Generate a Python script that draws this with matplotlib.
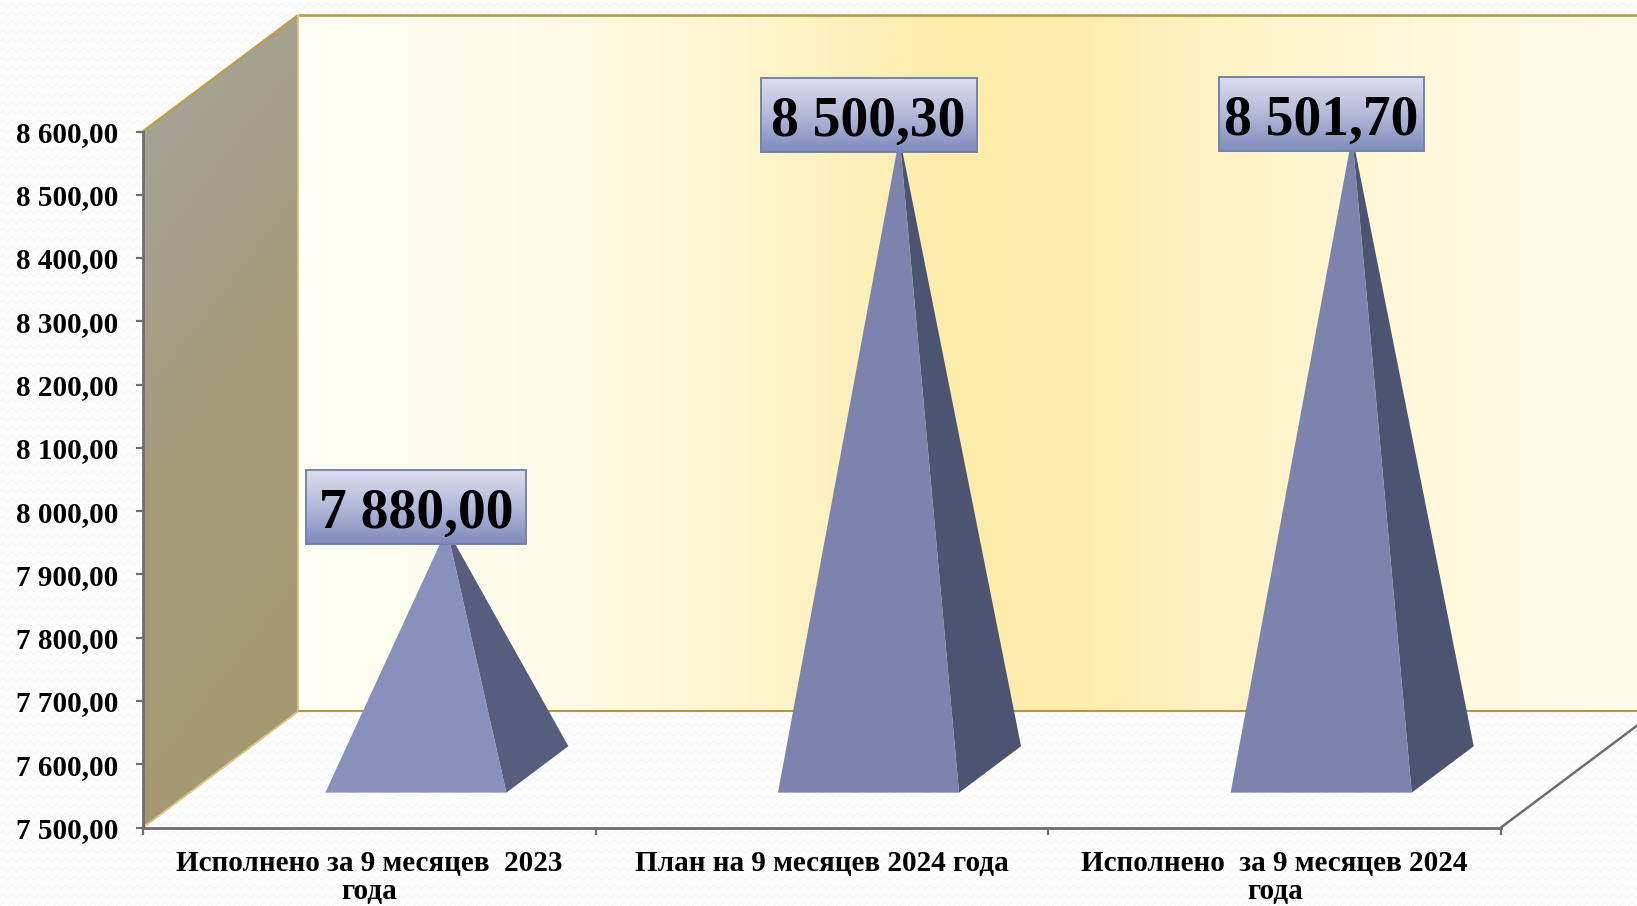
import numpy as np
import matplotlib
matplotlib.use("Agg")
import matplotlib.pyplot as plt
from matplotlib.colors import LinearSegmentedColormap
from matplotlib.patches import Polygon, Rectangle
from matplotlib.transforms import IdentityTransform

# ---- data ----
categories = ["Исполнено за 9 месяцев  2023\nгода",
              "План на 9 месяцев 2024 года",
              "Исполнено  за 9 месяцев 2024\nгода"]
values = [7880.00, 8500.30, 8501.70]
value_labels = ["7 880,00", "8 500,30", "8 501,70"]
y_ticks = [7500, 7600, 7700, 7800, 7900, 8000, 8100, 8200, 8300, 8400, 8500, 8600]
y_labels = ["7 500,00", "7 600,00", "7 700,00", "7 800,00", "7 900,00", "8 000,00",
            "8 100,00", "8 200,00", "8 300,00", "8 400,00", "8 500,00", "8 600,00"]

# ---- style ----
W, H = 1637, 906
FONT = "Liberation Serif"
GOLD = "#B8A052"
AXIS = "#6E6E6E"
FRONT = ["#8791BC", "#7C84AD", "#7C84AD"]
SIDE = ["#575D7E", "#4D5471", "#4D5471"]
DX, DY = 0.3425, 183.5   # oblique depth vector in data units

fig = plt.figure(figsize=(W / 100, H / 100), dpi=100, facecolor="white")

# faint woven page texture
yy, xx = np.mgrid[0:H, 0:W]
wave = ((yy + 1.6 * np.sin(2 * np.pi * xx / 9.0)) % 9.0)
tex = 255 - 8 * np.exp(-((wave - 4.5) / 1.0) ** 2)
fig.figimage(np.dstack([tex, tex, tex]).astype(np.uint8), 0, 0, zorder=-5)

L, R, T, B = 143, 1501, 131.5, 827.5
ax = fig.add_axes([L / W, 1 - B / H, (R - L) / W, (B - T) / H])
ax.patch.set_visible(False)
ax.set_autoscale_on(False)
ax.set_xlim(0, 3)
ax.set_ylim(7500, 8600)


def P(c, v, d):
    return (c + d * DX, v + d * DY)


# back wall gradient
wall = LinearSegmentedColormap.from_list(
    "wall", [(0, "#FFFEF4"), (0.16, "#FFFCEB"), (0.33, "#FFF6CE"), (0.48, "#FFEBAA"),
             (0.56, "#FFECAC"), (0.68, "#FFF3C4"), (0.85, "#FFF9DE"), (1, "#FFFCEC")])
grad = np.linspace(0, 1, 512).reshape(1, -1)
x0, y0 = P(0, 7500, 1)
x1, y1 = P(3, 8600, 1)
ax.imshow(grad, cmap=wall, extent=[x0, x1, y0, y1], aspect="auto", zorder=1,
          clip_on=False, interpolation="bilinear")

# side wall gradient clipped to its parallelogram
side_poly = Polygon([P(0, 7500, 0), P(0, 7500, 1), P(0, 8600, 1), P(0, 8600, 0)],
                    closed=True, transform=ax.transData, facecolor="none", edgecolor="none")
ax.add_patch(side_poly)
side_poly.set_clip_on(False)
side_cm = LinearSegmentedColormap.from_list("side", ["#A6A69F", "#A39A78", "#A4986E"])
gy, gx = np.mgrid[0:1:256j, 0:1:256j]
side_im = ax.imshow(0.8 * gy + 0.2 * gx, cmap=side_cm, extent=[0, DX, 7500, 8600 + DY],
                    aspect="auto", origin="upper", zorder=1.1)
side_im.set_clip_box(fig.bbox)
side_im.set_clip_path(side_poly)

# frame lines
for a, b, col, lw in [
    (P(0, 8600, 0), P(0, 8600, 1), GOLD, 2.0),
    (P(0, 8600, 1), P(3, 8600, 1), GOLD, 2.0),
    (P(0, 7500, 1), P(3, 7500, 1), "#AE9850", 1.5),
    (P(0, 7500, 1), P(0, 8600, 1), "#D9C67E", 1.3),
    (P(0, 7500, 0), P(0, 7500, 1), "#D9C67E", 1.4),
    (P(3, 7500, 0), P(3, 7500, 1), AXIS, 1.8),
]:
    ax.plot([a[0], b[0]], [a[1], b[1]], color=col, lw=lw, zorder=1.5, clip_on=False,
            solid_capstyle="butt")

# pyramids
for i, v in enumerate(values):
    c0, c1, cm = i + 0.30, i + 0.70, i + 0.5
    fl = P(c0, 7500, 0.30)
    fr = P(c1, 7500, 0.30)
    br = P(c1, 7500, 0.70)
    apex = P(cm, v, 0.50)
    ax.add_patch(Polygon([fr, br, apex], closed=True, facecolor=SIDE[i], edgecolor="none",
                         zorder=3, clip_on=False))
    ax.add_patch(Polygon([fl, fr, apex], closed=True, facecolor=FRONT[i], edgecolor="none",
                         zorder=3.1, clip_on=False))

# value label boxes with a vertical gradient
box_cm = LinearSegmentedColormap.from_list("box", ["#DCDDEE", "#B3B9D8", "#7F8BBD"])
box_w = [220, 216, 205]
box_h = 74
for i, (v, txt) in enumerate(zip(values, value_labels)):
    px, py = ax.transData.transform(P(i + 0.5, v, 0.50))
    cx, cy = px - 31, py + 22
    bw = box_w[i]
    ext = [cx - bw / 2, cx + bw / 2, cy - box_h / 2, cy + box_h / 2]
    ax.imshow(np.linspace(0, 1, 128).reshape(-1, 1), cmap=box_cm, extent=ext, aspect="auto",
              origin="upper", transform=IdentityTransform(), zorder=5, clip_on=False)
    ax.add_patch(Rectangle((ext[0], ext[2]), bw, box_h, transform=IdentityTransform(),
                           facecolor="none", edgecolor="#7683AC", lw=1.4, zorder=5.1, clip_on=False))
    ax.text(cx, cy - 7, txt, transform=IdentityTransform(), ha="center", va="center",
            fontsize=40, fontweight="bold", family=FONT, color="black", zorder=6)

ax.set_xlim(0, 3)
ax.set_ylim(7500, 8600)

# axes, ticks and labels
for s in ("top", "right"):
    ax.spines[s].set_visible(False)
for s in ("left", "bottom"):
    ax.spines[s].set_color(AXIS)
    ax.spines[s].set_linewidth(2.0)
    ax.spines[s].set_zorder(2)
ax.set_yticks(y_ticks, y_labels, family=FONT, fontweight="bold", fontsize=21, color="black")
ax.tick_params(axis="y", length=5, width=1.6, color=AXIS, pad=12.5)
ax.set_xticks([0, 1, 2, 3], ["", "", "", ""])
ax.tick_params(axis="x", which="major", length=5, width=1.6, color=AXIS)
ax.set_xticks([0.5, 1.5, 2.5], categories, minor=True, family=FONT, fontweight="bold",
              fontsize=21, color="black", linespacing=1.08)
ax.tick_params(axis="x", which="minor", length=0, pad=16)

fig.savefig("out.png", dpi=100)
